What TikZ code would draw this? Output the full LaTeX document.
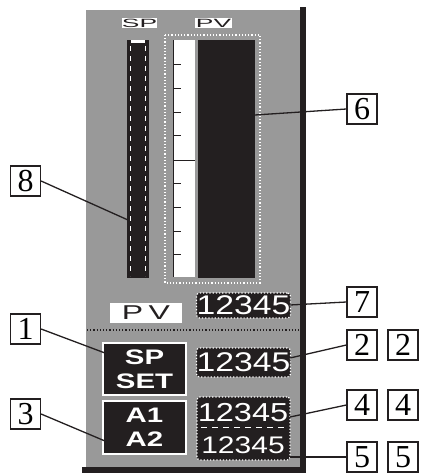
\documentclass[tikz,border=0pt]{standalone}
\usepackage{fontspec}
\setmainfont{Liberation Serif}
\newfontfamily\lcdfont{Liberation Sans}
\usetikzlibrary{positioning}
\definecolor{Ink}{HTML}{231F20}
\definecolor{Panel}{HTML}{999999}
\newcommand{\lcdnum}{\scalebox{1.25}[1]{12345}}
\tikzset{
  tag/.style={draw=Ink,line width=1.2pt,fill=white,minimum width=30pt,minimum height=30pt,inner sep=0pt,font=\fontsize{32}{32}\selectfont},
  lcd/.style={fill=Ink,draw=white,dotted,line width=1.2pt,rounded corners=3pt,text=white,inner sep=0pt,minimum width=93pt,font=\lcdfont\fontsize{27}{27}\selectfont},
  keybox/.style={fill=Ink,draw=white,line width=1.5pt,text=white,inner sep=0pt,minimum width=83pt,align=center,font=\lcdfont\bfseries\fontsize{21}{24}\selectfont},
  caption/.style={fill=white,text=Ink,inner sep=0pt,font=\lcdfont\fontsize{12}{12}\selectfont},
  lead/.style={Ink,line width=1.3pt},
}

\begin{document}
\begin{tikzpicture}[x=1pt,y=-1pt]
  \useasboundingbox (0,0) rectangle (420,473);
  \fill[Panel] (86,10) rectangle (300,467);
  \fill[Ink] (300,7) rectangle (306,473);
  \fill[Ink] (82,467) rectangle (306,473);
  \node[caption,minimum width=35pt,minimum height=10pt] (sptitle) at (139.5,23) {\scalebox{2.2}[1]{SP}};
  \node[caption,minimum width=37pt,minimum height=10pt] (pvtitle) at (213.5,23) {\scalebox{2.2}[1]{PV}};
  \node[fill=Ink,minimum width=22pt,minimum height=238pt,inner sep=0pt] (spbar) at (138,159) {};
  \draw[white,line width=1.5pt,dash pattern=on 5pt off 5pt] (130.5,46) -- (130.5,276);
  \draw[white,line width=1.5pt,dash pattern=on 5pt off 5pt] (145.5,46) -- (145.5,276);
  \fill[white] (131,40) rectangle (145,43);
  \draw[white,dotted,line width=1.2pt] (165,35) rectangle (260,283);
  \fill[white] (173,40) rectangle (195,277);
  \draw[Ink,line width=1pt] (173,40) -- (173,277);
  \foreach \ty in {65,89,113,136,183,207,231,254}
    \draw[Ink,line width=1pt] (173,\ty) -- (181,\ty);
  \draw[Ink,line width=1pt] (173,160) -- (195,160);
  \node[fill=Ink,minimum width=57pt,minimum height=238pt,inner sep=0pt] (pvbar) at (226.5,159) {};
  \draw[Ink,dotted,line width=1.2pt] (87,330) -- (300,330);
  \node[fill=white,text=Ink,minimum width=72pt,minimum height=20pt,inner sep=0pt,font=\lcdfont\fontsize{20}{20}\selectfont] (pvtag) at (146,313) {\scalebox{1.6}[1]{P\,V}};
  \node[lcd,minimum height=25pt] (pvdisp) at (243.5,305.5) {\lcdnum};
  \node[lcd,minimum height=29pt] (spdisp) at (243.5,362.5) {\lcdnum};
  \node[lcd,minimum height=63pt] (almdisp) at (243.5,428.5) {};
  \node[text=white,inner sep=0pt,font=\lcdfont\fontsize{26}{26}\selectfont] (a1disp) at (243,413) {\lcdnum};
  \node[text=white,inner sep=0pt,font=\lcdfont\fontsize{24}{24}\selectfont] (a2disp) at (243,445) {\lcdnum};
  \draw[white,line width=1.5pt,dash pattern=on 6pt off 5pt] (201,427.5) -- (286,427.5);
  \node[keybox,minimum height=52pt] (spset) at (144.5,369) {\scalebox{1.4}[1]{SP}\\\scalebox{1.4}[1]{SET}};
  \node[keybox,minimum height=53pt] (alarm) at (144.5,427.5) {\scalebox{1.4}[1]{A1}\\\scalebox{1.4}[1]{A2}};
  \node[tag] (t8) at (25.5,181) {8};
  \node[tag] (t1) at (25.5,329) {1};
  \node[tag] (t3) at (25.5,414) {3};
  \node[tag] (t6) at (362,109) {6};
  \node[tag] (t7) at (362,302) {7};
  \node[tag] (t2) at (362,345) {2};
  \node[tag] (t2b) at (403,345) {2};
  \node[tag] (t4) at (362,405) {4};
  \node[tag] (t4b) at (403,405) {4};
  \node[tag] (t5) at (362,457) {5};
  \node[tag] (t5b) at (403,457) {5};
  \coordinate (p8) at (128,220);
  \coordinate (p1) at (105,353);
  \coordinate (p3) at (105,441);
  \coordinate (p6) at (255,115);
  \coordinate (p7) at (290,305);
  \coordinate (p2) at (290,358);
  \coordinate (p4) at (290,417);
  \coordinate (p5) at (290,457);
  \draw[lead] (t8.east) -- (p8);
  \draw[lead] (t1.east) -- (p1);
  \draw[lead] (t3.east) -- (p3);
  \draw[lead] (t6.west) -- (p6);
  \draw[lead] (t7.west) -- (p7);
  \draw[lead] (t2.west) -- (p2);
  \draw[lead] (t4.west) -- (p4);
  \draw[lead] (t5.west) -- (p5);
\end{tikzpicture}
\end{document}
